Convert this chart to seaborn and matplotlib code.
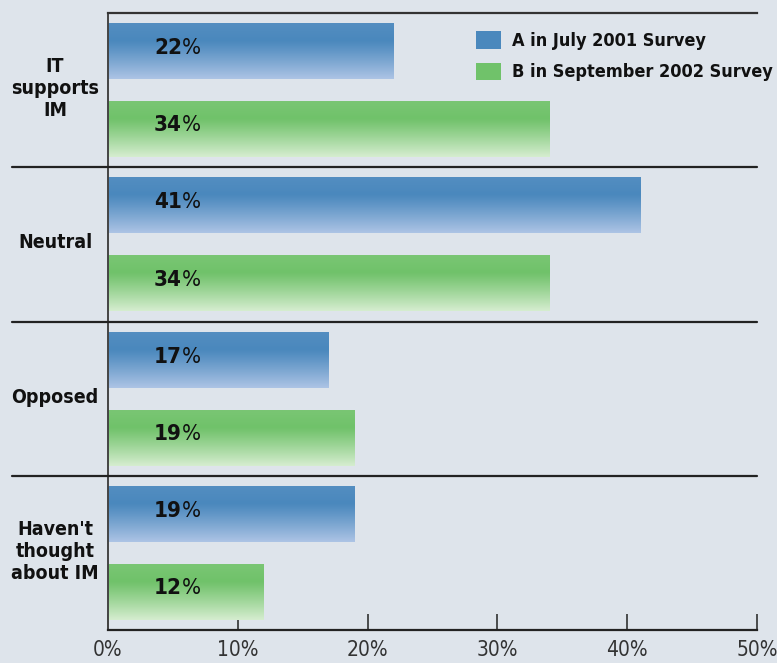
import numpy as np
import pandas as pd
import matplotlib
matplotlib.use("Agg")
import matplotlib.pyplot as plt
import matplotlib.colors as mcolors
from matplotlib.patches import Patch
import seaborn as sns

# ---- data ----
categories = ["IT\nsupports\nIM", "Neutral", "Opposed", "Haven't\nthought\nabout IM"]
series_names = ["A in July 2001 Survey", "B in September 2002 Survey"]
values_a = [22, 41, 17, 19]
values_b = [34, 34, 19, 12]
x_ticks = [0, 10, 20, 30, 40, 50]
x_tick_labels = ["0%", "10%", "20%", "30%", "40%", "50%"]

df = pd.DataFrame({
    "category": categories * 2,
    "survey": [series_names[0]] * 4 + [series_names[1]] * 4,
    "value": values_a + values_b,
})

# ---- style ----
sns.set_theme(style="white")
plt.rcParams["font.family"] = ["DejaVu Sans"]
plt.rcParams["font.stretch"] = "condensed"

BG = "#dee4eb"
blue_dark, blue_light = "#4a88bd", "#adc4e5"
green_dark, green_light = "#70c26a", "#d6edd0"
palette = {series_names[0]: blue_dark, series_names[1]: green_dark}

fig = plt.figure(figsize=(7.77, 6.63), dpi=100, facecolor=BG)
ax = fig.add_axes([108 / 777, 33 / 663, 649 / 777, 617 / 663])
ax.set_facecolor(BG)

sns.barplot(data=df, y="category", x="value", hue="survey", orient="h",
            palette=palette, width=1.01, gap=0.28, ax=ax, legend=False,
            saturation=1, linewidth=0)

ax.set_xlim(0, 50)
ax.set_ylim(3.5, -0.5)

# gradient fills
def grad(dark, light, n=256):
    d = np.array(mcolors.to_rgb(dark))
    l = np.array(mcolors.to_rgb(light))
    t = np.linspace(0, 1, n)
    w = np.clip((t - 0.32) / 0.68, 0, 1) ** 1.1
    w = np.where(t < 0.32, 0.1 * (0.32 - t) / 0.32, w)
    cols = d[None, :] * (1 - w[:, None]) + l[None, :] * w[:, None]
    return cols[:, None, :]

for p in list(ax.patches):
    fc = mcolors.to_hex(p.get_facecolor()[:3])
    if fc.lower() == blue_dark:
        img = grad(blue_dark, blue_light)
    else:
        img = grad(green_dark, green_light)
    x0, y0, w, h = p.get_x(), p.get_y(), p.get_width(), p.get_height()
    im = ax.imshow(img, extent=(x0, x0 + w, y0 + h, y0), origin="upper",
                   aspect="auto", zorder=2, interpolation="bilinear")
    im.set_clip_path(p)
    p.set_facecolor("none")

ax.set_xlim(0, 50)
ax.set_ylim(3.5, -0.5)

# value labels
for i in range(len(categories)):
    for val, off in ((values_a[i], -0.272), (values_b[i], 0.228)):
        ax.text(5.7, i + off, f"{val}", ha="right", va="center",
                fontsize=16, fontweight="bold", color="#111", zorder=5)
        ax.text(5.7, i + off, "%", ha="left", va="center",
                fontsize=16, color="#111", zorder=5)

# category labels
ytr = ax.get_yaxis_transform()
for i, c in enumerate(categories):
    ax.text(-53 / 649, i - 0.01, c, transform=ytr, ha="center", va="center",
            fontsize=14, fontweight="bold", color="#111", linespacing=1.2)
ax.set_yticks([])
ax.set_ylabel("")
ax.set_xlabel("")

# separators
for yv in (0.5, 1.5, 2.5):
    ax.plot([-96 / 649, 1.0], [yv, yv], transform=ytr, color="#222",
            lw=1.6, clip_on=False, zorder=4)

# spines / ticks
ax.spines["right"].set_visible(False)
ax.spines["top"].set_color("#333")
ax.spines["top"].set_linewidth(1.6)
ax.spines["left"].set_color("#444")
ax.spines["left"].set_linewidth(1.4)
ax.spines["bottom"].set_color("#222")
ax.spines["bottom"].set_linewidth(1.6)
ax.set_xticks(x_ticks)
ax.set_xticklabels(x_tick_labels)
ax.tick_params(axis="x", direction="in", length=11.5, width=1.1, color="#222",
               labelsize=15, pad=7, labelcolor="#333", bottom=True)

# legend
handles = [Patch(facecolor=blue_dark, edgecolor="none"),
           Patch(facecolor=green_dark, edgecolor="none")]
leg = ax.legend(handles, series_names, loc="upper left",
                bbox_to_anchor=(476 / 777, (663 - 31) / 663),
                bbox_transform=fig.transFigure, frameon=False,
                borderpad=0, borderaxespad=0, handlelength=1.4,
                handleheight=1.12, handletextpad=0.58, labelspacing=0.7,
                prop={"family": "DejaVu Sans", "weight": "bold",
                      "size": 13, "stretch": "condensed"})
for t in leg.get_texts():
    t.set_color("#111")

fig.savefig("out.png", dpi=100, facecolor=BG)
